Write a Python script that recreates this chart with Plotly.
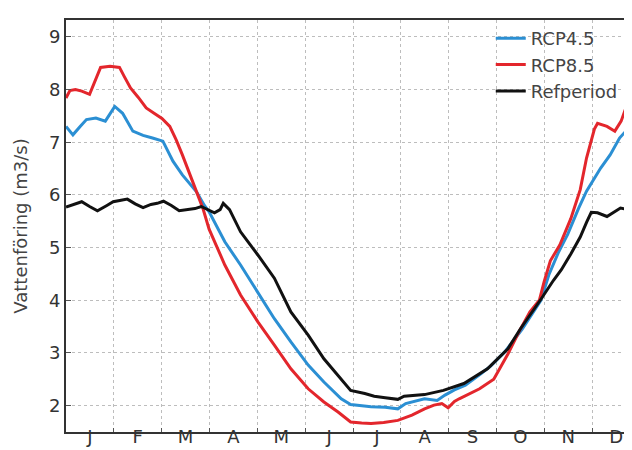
import plotly.graph_objects as go

months = ["J", "F", "M", "A", "M", "J", "J", "A", "S", "O", "N", "D"]
yticks = [2, 3, 4, 5, 6, 7, 8, 9]

days_45 = [0, 4.4, 9, 13, 19, 25, 31, 36, 42.5, 49, 55, 61.6, 68, 74, 83, 88, 91, 101, 111, 122,
           132.5, 143, 154, 164, 175, 181, 187, 194, 203, 211, 216, 228, 236, 241, 247, 254, 264,
           270, 279, 290, 302, 307, 313, 319, 326, 331, 340, 346, 352, 359, 362, 365]
rcp45 = [7.30, 7.14, 7.30, 7.43, 7.46, 7.40, 7.68, 7.55, 7.21, 7.13, 7.08, 7.02, 6.64, 6.38, 6.06,
         5.80, 5.68, 5.11, 4.67, 4.16, 3.65, 3.21, 2.77, 2.45, 2.13, 2.02, 2.00, 1.98, 1.97, 1.94,
         2.04, 2.13, 2.10, 2.20, 2.30, 2.39, 2.61, 2.75, 3.02, 3.45, 4.00, 4.48, 4.90, 5.25, 5.75,
         6.07, 6.51, 6.76, 7.08, 7.31, 7.25, 7.22]

days_85 = [0, 2.5, 6, 10, 15, 19, 22, 28, 34, 37, 41, 46, 51, 56, 61, 66, 70, 74, 78, 82.5, 87,
           91, 101, 111, 122, 132.5, 143, 154, 164, 173, 181, 188, 194, 202, 211, 220, 228, 234,
           239, 243, 247, 250, 258, 263, 272, 281, 288, 295, 301, 304, 308, 314, 321, 327, 331,
           336, 338, 344, 349, 353, 356, 362, 365]
rcp85 = [7.84, 7.98, 8.00, 7.97, 7.91, 8.20, 8.42, 8.44, 8.42, 8.25, 8.03, 7.85, 7.65, 7.55, 7.45,
         7.30, 7.05, 6.76, 6.45, 6.13, 5.75, 5.35, 4.67, 4.10, 3.59, 3.15, 2.70, 2.32, 2.07, 1.88,
         1.69, 1.67, 1.66, 1.68, 1.72, 1.82, 1.94, 2.01, 2.04, 1.96, 2.08, 2.13, 2.25, 2.32,
         2.50, 2.98, 3.40, 3.78, 4.00, 4.35, 4.75, 5.05, 5.55, 6.10, 6.70, 7.25, 7.36, 7.30, 7.21,
         7.40, 7.65, 7.84, 7.90]

days_ref = [0, 5, 10, 15, 20, 26, 30, 35, 39, 44, 49, 54, 58, 62, 67, 72, 77, 82, 86, 90, 94.4,
            98, 100, 104, 111, 122, 132.5, 143, 154, 164, 175, 181, 190, 196, 203, 211, 215, 222,
            228, 240, 253, 268, 281, 289, 296, 302, 310, 315, 321, 327, 331, 334, 338, 344, 352.6,
            358, 363, 365]
refperiod = [5.77, 5.82, 5.87, 5.78, 5.70, 5.80, 5.87, 5.90, 5.92, 5.83, 5.76, 5.82, 5.84, 5.88,
             5.80, 5.70, 5.72, 5.74, 5.78, 5.72, 5.66, 5.72, 5.84, 5.72, 5.30, 4.86, 4.42, 3.78,
             3.34, 2.89, 2.51, 2.29, 2.23, 2.18, 2.15, 2.12, 2.18, 2.19, 2.21, 2.29, 2.42, 2.70,
             3.08, 3.46, 3.75, 4.02, 4.38, 4.58, 4.88, 5.20, 5.48, 5.67, 5.66, 5.59, 5.75, 5.72,
             5.84, 5.84]

FONT = "DejaVu Sans"
mlen = 365 / 12

fig = go.Figure()
series = [("RCP4.5", days_45, rcp45, "#2b8fd3"),
          ("RCP8.5", days_85, rcp85, "#e3262c"),
          ("Refperiod", days_ref, refperiod, "#111111")]
for name, xs, ys, col in series:
    fig.add_trace(go.Scatter(x=xs, y=ys, mode="lines", name=name,
                             line=dict(color=col, width=3)))

fig.update_layout(
    width=632, height=450,
    margin=dict(l=58, r=0, t=12, b=26),
    plot_bgcolor="white", paper_bgcolor="white",
    font=dict(family=FONT, color="#333333"),
    showlegend=True,
    legend=dict(x=0.74, y=1.0, xanchor="left", yanchor="top",
                bgcolor="rgba(255,255,255,0)", borderwidth=0,
                font=dict(size=18, color="#444444")),
)
fig.update_xaxes(
    range=[0, 365],
    tickvals=[mlen * (i + 0.5) for i in range(len(months))],
    ticktext=months, ticks="", showgrid=False,
    tickfont=dict(size=18, color="#333333"),
    ticklabelstandoff=-13,
    showline=True, linecolor="#333333", linewidth=2, mirror=True,
    zeroline=False,
    minor=dict(tickvals=[mlen * i for i in range(1, 12)], showgrid=True,
               gridcolor="#bdbdbd", griddash="dot", gridwidth=1,
               ticks="inside", ticklen=4, tickcolor="#555555"),
)
fig.update_yaxes(
    range=[1.5, 9.32],
    tickvals=yticks, ticks="inside", ticklen=5, tickcolor="#555555",
    showgrid=True, gridcolor="#bdbdbd", griddash="dot", gridwidth=1,
    tickfont=dict(size=18, color="#333333"),
    showline=True, linecolor="#333333", linewidth=2, mirror=False,
    zeroline=False,
    title=dict(text="Vattenföring (m3/s)", font=dict(size=18, color="#444444"), standoff=17),
)

fig.write_html("out.html")
